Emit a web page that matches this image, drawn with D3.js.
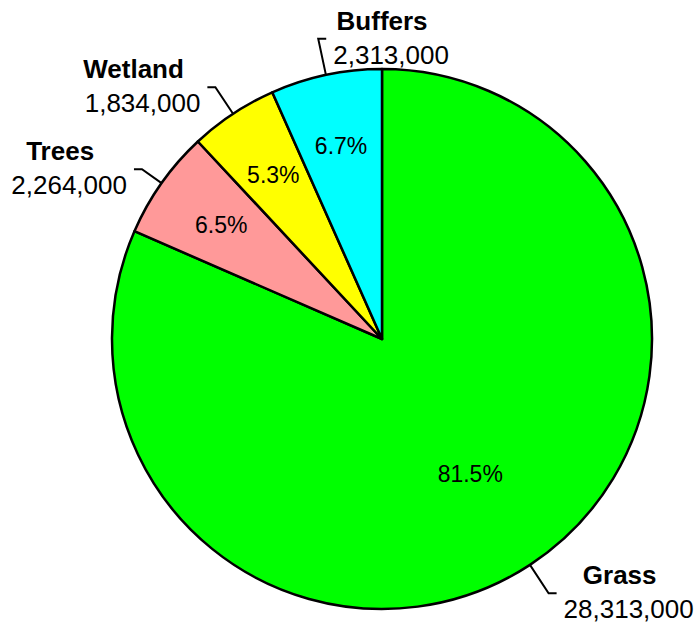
<!DOCTYPE html>
<html>
<head>
<meta charset="utf-8">
<script src="https://cdn.jsdelivr.net/npm/d3@7"></script>
<style>
  body { margin: 0; background: #fff; }
  text { font-family: "Liberation Sans", Arial, sans-serif; }
</style>
</head>
<body>
<script>
// slice data, clockwise from 12 o'clock
var categories = ["Grass", "Trees", "Wetland", "Buffers"];
var values = [28313000, 2264000, 1834000, 2313000];
var percentLabels = ["81.5%", "6.5%", "5.3%", "6.7%"];
var colors = ["#00ff00", "#ff9999", "#ffff00", "#00ffff"];

var width = 700, height = 627;
var cx = 382, cy = 339, r = 270;
// leader elbow distance from centre, per slice
var elbowR = [304, 294, 302, 307];

var svg = d3.select("body").append("svg")
  .attr("width", width)
  .attr("height", height);

var g = svg.append("g").attr("transform", "translate(" + cx + "," + cy + ")");

var pie = d3.pie().sort(null).value(function (d) { return d; });
var arcs = pie(values);
var arc = d3.arc().innerRadius(0).outerRadius(r);

g.selectAll("path.slice")
  .data(arcs)
  .enter().append("path")
    .attr("class", "slice")
    .attr("d", arc)
    .attr("fill", function (d, i) { return colors[i]; })
    .attr("stroke", "#000")
    .attr("stroke-width", 2.5)
    .attr("stroke-linejoin", "round");

// percent labels inside
function pctRadius(d) { return (d.endAngle - d.startAngle) > Math.PI ? 161 : 197; }
g.selectAll("text.pct")
  .data(arcs)
  .enter().append("text")
    .attr("class", "pct")
    .attr("x", function (d) { var a = (d.startAngle + d.endAngle) / 2; return pctRadius(d) * Math.sin(a); })
    .attr("y", function (d) { var a = (d.startAngle + d.endAngle) / 2; return -pctRadius(d) * Math.cos(a) + 8; })
    .attr("text-anchor", "middle")
    .style("font-size", "23px")
    .text(function (d, i) { return percentLabels[i]; });

// leader lines + outside labels
var fmt = d3.format(",");
arcs.forEach(function (d, i) {
  var a = (d.startAngle + d.endAngle) / 2;
  var sx = r * Math.sin(a), sy = -r * Math.cos(a);
  var er = elbowR[i];
  var ex = er * Math.sin(a), ey = -er * Math.cos(a);
  var dir = (Math.sin(a) > 0 || a > 5.9) ? 1 : -1;
  var tx = ex + dir * 8;
  g.append("path")
    .attr("d", "M" + sx + "," + sy + "L" + ex + "," + ey + "L" + tx + "," + ey)
    .attr("fill", "none")
    .attr("stroke", "#000")
    .attr("stroke-width", 2);

  var valStr = fmt(values[i]);
  var vx = tx + dir * 7;
  var vt = g.append("text")
    .attr("x", vx)
    .attr("y", ey + 25)
    .attr("text-anchor", dir > 0 ? "start" : "end")
    .style("font-size", "26px")
    .text(valStr);
  var w = vt.node().getComputedTextLength();
  var vc = dir > 0 ? vx + w / 2 : vx - w / 2;
  g.append("text")
    .attr("x", vc - 9)
    .attr("y", ey - 9)
    .attr("text-anchor", "middle")
    .style("font-size", "26px")
    .style("font-weight", "bold")
    .text(categories[i]);
});
</script>
</body>
</html>
